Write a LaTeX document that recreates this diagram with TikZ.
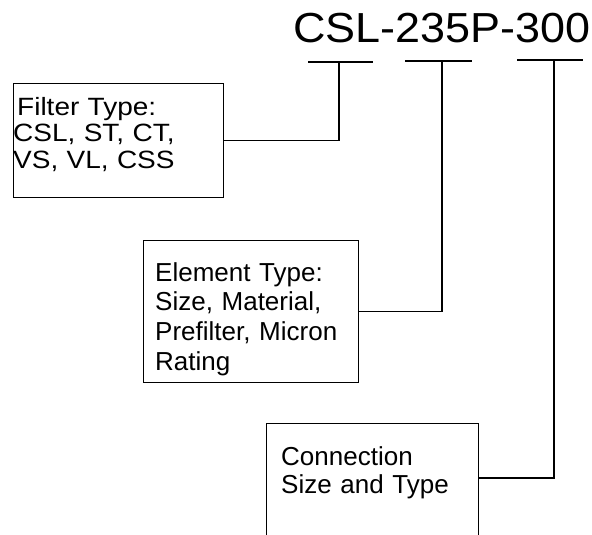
\documentclass[tikz,border=0pt]{standalone}
\usepackage{fontspec}
\setmainfont{Liberation Sans}
\newfontfamily\codefont[FakeStretch=1.07]{Liberation Sans}
\newfontfamily\widefont[FakeStretch=1.12]{Liberation Sans}
\usetikzlibrary{positioning, calc}

\begin{document}
\begin{tikzpicture}[
        x=1pt, y=-1pt,
        box/.style={rectangle, draw, line width=1.2pt, anchor=north west, inner sep=0pt},
        boxtext/.style={anchor=north west, inner sep=0pt, align=left, text width=#1},
        link/.style={line width=1.2pt},
        bar/.style={line width=1.2pt}
    ]
        \useasboundingbox (0,0) rectangle (592,535);
        \clip (0,0) rectangle (592,535);

        % Part number
        \node[anchor=base west, inner sep=0pt, font=\codefont\fontsize{42}{48}\selectfont] (code) at (293,43) {CSL-235P-300};

        % Bars under the code
        \coordinate (b1l) at (308,62); \coordinate (b1r) at (373,62); \coordinate (t1) at (339,62);
        \coordinate (b2l) at (405,61); \coordinate (b2r) at (472,61); \coordinate (t2) at (442,61);
        \coordinate (b3l) at (517,60); \coordinate (b3r) at (583,60); \coordinate (t3) at (554,60);
        \draw[bar] (b1l) -- (b1r);
        \draw[bar] (b2l) -- (b2r);
        \draw[bar] (b3l) -- (b3r);

        % Boxes
        \node[box, minimum width=210pt, minimum height=114pt] (filter) at (13,83) {};
        \node[box, minimum width=215pt, minimum height=142pt] (element) at (143,240) {};
        \node[box, minimum width=212pt, minimum height=130pt] (conn) at (266,423) {};

        % Box texts
        \node[boxtext=205pt, font=\widefont\fontsize{25}{26.5}\selectfont] (filter_txt) at ($(filter.north west)+(0,14)$) {\hspace*{4pt}Filter Type:\\CSL, ST, CT,\\VS, VL, CSS};
        \node[boxtext=205pt, font=\fontsize{26}{29.7}\selectfont] (element_txt) at ($(element.north west)+(12,22)$) {Element Type:\\Size, Material,\\Prefilter, Micron\\Rating};
        \node[boxtext=200pt, font=\fontsize{26}{28}\selectfont] (conn_txt) at ($(conn.north west)+(15,23)$) {Connection\\Size and Type};

        % Connectors
        \draw[link] (filter.east) -| (t1);
        \draw[link] (element.east) -| (t2);
        \draw[link] ([yshift=-55pt]conn.north east) -| (t3);

    \end{tikzpicture}
\end{document}
